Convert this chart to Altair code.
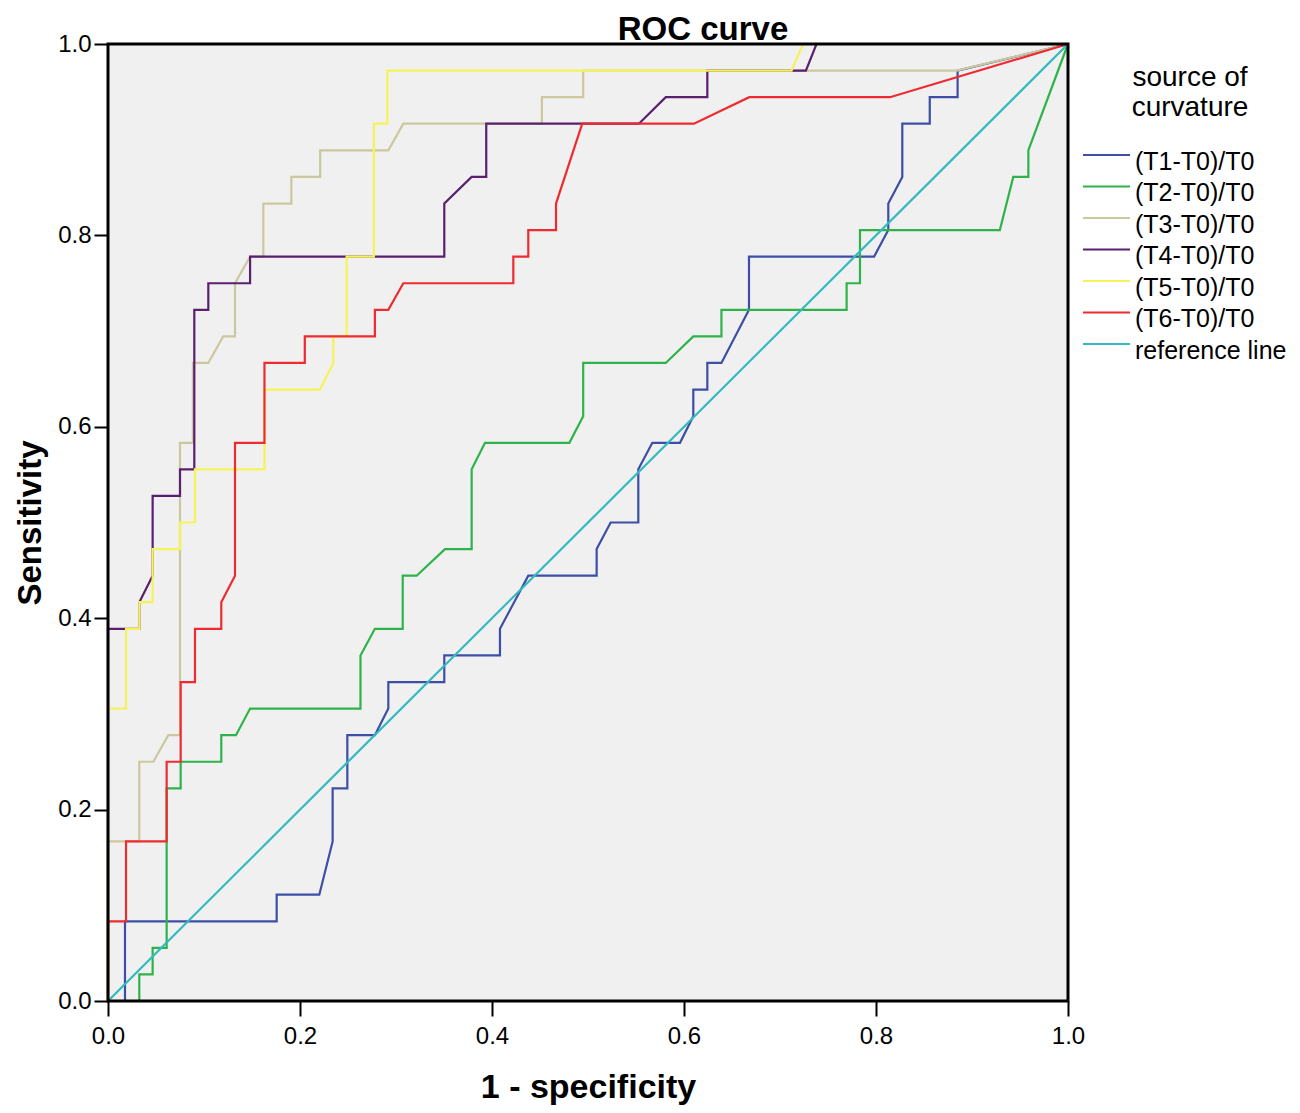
import altair as alt
import pandas as pd

names = ["(T1-T0)/T0", "(T2-T0)/T0", "(T3-T0)/T0", "(T4-T0)/T0",
         "(T5-T0)/T0", "(T6-T0)/T0", "reference line"]
colors = ["#3c4ea5", "#2eb34b", "#cbc89e", "#5a1f6e", "#f6f35a", "#ee2b30", "#33b9bf"]
ticks = [0.0, 0.2, 0.4, 0.6, 0.8, 1.0]

t1_x = [0, 0.0177, 0.0177, 0.1757, 0.1757, 0.2201, 0.234, 0.234, 0.2493, 0.2493,
        0.278, 0.292, 0.292, 0.3503, 0.3503, 0.4083, 0.4083, 0.4378, 0.509, 0.509,
        0.5236, 0.5524, 0.5524, 0.567, 0.5958, 0.6097, 0.6097, 0.6243, 0.6243, 0.639,
        0.6677, 0.6677, 0.798, 0.8128, 0.8128, 0.8274, 0.8274, 0.856, 0.856, 0.885,
        0.885, 1]
t1_y = [0, 0, 0.0833, 0.0833, 0.1111, 0.1111, 0.1667, 0.2222, 0.2222, 0.2778,
        0.2778, 0.3056, 0.3333, 0.3333, 0.3611, 0.3611, 0.3889, 0.4444, 0.4444, 0.4722,
        0.5, 0.5, 0.5556, 0.5833, 0.5833, 0.6111, 0.6389, 0.6389, 0.6667, 0.6667,
        0.7222, 0.7778, 0.7778, 0.8056, 0.8333, 0.8611, 0.9167, 0.9167, 0.9444, 0.9444,
        0.9722, 1]

t2_x = [0, 0.0326, 0.0326, 0.0465, 0.0465, 0.0611, 0.0611, 0.0757, 0.0757, 0.118,
        0.118, 0.1333, 0.148, 0.263, 0.263, 0.278, 0.307, 0.307, 0.3215, 0.351,
        0.3788, 0.3788, 0.3927, 0.4806, 0.495, 0.495, 0.581, 0.6097, 0.639, 0.639,
        0.7694, 0.7694, 0.7833, 0.7833, 0.929, 0.943, 0.9587, 0.9587, 1]
t2_y = [0, 0, 0.0278, 0.0278, 0.0556, 0.0556, 0.2222, 0.2222, 0.25, 0.25,
        0.2778, 0.2778, 0.3056, 0.3056, 0.3611, 0.3889, 0.3889, 0.4444, 0.4444, 0.4722,
        0.4722, 0.5556, 0.5833, 0.5833, 0.6111, 0.6667, 0.6667, 0.6944, 0.6944, 0.7222,
        0.7222, 0.75, 0.75, 0.8056, 0.8056, 0.8611, 0.8611, 0.8889, 1]

t3_x = [0, 0, 0.0326, 0.0326, 0.0472, 0.0628, 0.075, 0.075, 0.0885, 0.0885,
        0.1045, 0.12, 0.1323, 0.1323, 0.148, 0.1618, 0.1618, 0.191, 0.191, 0.221,
        0.221, 0.292, 0.3076, 0.452, 0.452, 0.495, 0.495, 0.884, 1]
t3_y = [0, 0.1667, 0.1667, 0.25, 0.25, 0.2778, 0.2778, 0.5833, 0.5833, 0.6667,
        0.6667, 0.6944, 0.6944, 0.75, 0.7778, 0.7778, 0.8333, 0.8333, 0.8611, 0.8611,
        0.8889, 0.8889, 0.9167, 0.9167, 0.9444, 0.9444, 0.9722, 0.9722, 1]

t4_x = [0, 0, 0.0326, 0.0326, 0.0465, 0.0465, 0.075, 0.075, 0.0899, 0.0899,
        0.1045, 0.1045, 0.148, 0.148, 0.3503, 0.3503, 0.3788, 0.394, 0.394, 0.553,
        0.581, 0.6243, 0.6243, 0.727, 0.738, 1]
t4_y = [0, 0.3889, 0.3889, 0.4167, 0.4444, 0.5278, 0.5278, 0.5556, 0.5556, 0.7222,
        0.7222, 0.75, 0.75, 0.7778, 0.7778, 0.8333, 0.8611, 0.8611, 0.9167, 0.9167,
        0.9444, 0.9444, 0.9722, 0.9722, 1, 1]

t5_x = [0, 0, 0.0188, 0.0188, 0.0326, 0.0326, 0.0465, 0.0465, 0.075, 0.075,
        0.0906, 0.0906, 0.163, 0.163, 0.2208, 0.2347, 0.2347, 0.2486, 0.2486, 0.277,
        0.277, 0.291, 0.291, 0.712, 0.724, 1]
t5_y = [0, 0.3056, 0.3056, 0.3889, 0.3889, 0.4167, 0.4167, 0.4722, 0.4722, 0.5,
        0.5, 0.5556, 0.5556, 0.6389, 0.6389, 0.6667, 0.6944, 0.6944, 0.7778, 0.7778,
        0.9167, 0.9167, 0.9722, 0.9722, 1, 1]

t6_x = [0, 0, 0.0188, 0.0188, 0.0611, 0.0611, 0.0757, 0.0757, 0.0906, 0.0906,
        0.118, 0.118, 0.1323, 0.1323, 0.163, 0.163, 0.205, 0.205, 0.278, 0.278,
        0.292, 0.3076, 0.4222, 0.4222, 0.4378, 0.4378, 0.4667, 0.4667, 0.494, 0.6104,
        0.668, 0.8146, 1]
t6_y = [0, 0.0833, 0.0833, 0.1667, 0.1667, 0.25, 0.25, 0.3333, 0.3333, 0.3889,
        0.3889, 0.4167, 0.4444, 0.5833, 0.5833, 0.6667, 0.6667, 0.6944, 0.6944, 0.7222,
        0.7222, 0.75, 0.75, 0.7778, 0.7778, 0.8056, 0.8056, 0.8333, 0.9167, 0.9167,
        0.9444, 0.9444, 1]

ref_x = [0, 1]
ref_y = [0, 1]

all_x = [t1_x, t2_x, t3_x, t4_x, t5_x, t6_x, ref_x]
all_y = [t1_y, t2_y, t3_y, t4_y, t5_y, t6_y, ref_y]

rows = []
for name, xs, ys in zip(names, all_x, all_y):
    assert len(xs) == len(ys), name
    for i, (a, b) in enumerate(zip(xs, ys)):
        rows.append({"series": name, "x": a, "y": b, "order": i})
df = pd.DataFrame(rows)

FONT = "Liberation Sans"

x_axis = alt.Axis(values=ticks, format=".1f", grid=False, domain=False,
                  tickSize=15, tickWidth=2, tickColor="black",
                  labelFontSize=24, labelFont=FONT, labelColor="black",
                  labelPadding=8, labelFlush=False,
                  title="1 - specificity", titleFont=FONT, titleFontSize=34,
                  titleFontWeight="bold", titleColor="black", titlePadding=22)
y_axis = alt.Axis(values=ticks, format=".1f", grid=False, domain=False,
                  tickSize=14, tickWidth=2, tickColor="black",
                  labelFontSize=24, labelFont=FONT, labelColor="black",
                  labelPadding=3, labelFlush=False,
                  title="Sensitivity", titleFont=FONT, titleFontSize=33,
                  titleFontWeight="bold", titleColor="black", titlePadding=10)

legend = alt.Legend(orient="none", legendX=986, legendY=20, direction="vertical",
                    symbolType="M-4.7,-1.3H4.7", symbolSize=100, symbolStrokeWidth=2,
                    labelOffset=16, labelFontSize=25, labelFont=FONT, labelColor="black",
                    labelLimit=400,
                    titleFontSize=28, titleFontWeight="normal", titleFont=FONT,
                    titleColor="black", titleAnchor="middle", titleAlign="center",
                    titleLineHeight=30, titlePadding=27, rowPadding=5.5, padding=0)

lines = alt.Chart(df).mark_line(strokeWidth=2.2).encode(
    x=alt.X("x:Q", scale=alt.Scale(domain=[0, 1], nice=False, zero=False), axis=x_axis),
    y=alt.Y("y:Q", scale=alt.Scale(domain=[0, 1], nice=False, zero=False), axis=y_axis),
    color=alt.Color("series:N", scale=alt.Scale(domain=names, range=colors),
                    sort=names, title=["source of", "curvature"], legend=legend),
    order="order:Q",
)

frame = alt.Chart(pd.DataFrame({"k": [0]})).mark_rect(
    fillOpacity=0, stroke="black", strokeWidth=3
).encode(x=alt.datum(0), x2=alt.datum(1), y=alt.datum(0), y2=alt.datum(1))

chart = alt.layer(lines, frame).properties(
    width=960, height=957,
    padding={"left": 100, "top": 36, "right": 224, "bottom": 104},
    autosize=alt.AutoSizeParams(type="none"),
    title=alt.TitleParams(text="ROC curve", font=FONT, fontSize=33, fontWeight="bold",
                          color="black", anchor="middle", dx=115, offset=-41,
                          baseline="alphabetic", frame="group"),
).configure_view(fill="#f0f0f0", strokeWidth=0)

chart.save("out.html", embed_options={"renderer": "svg", "actions": False})
